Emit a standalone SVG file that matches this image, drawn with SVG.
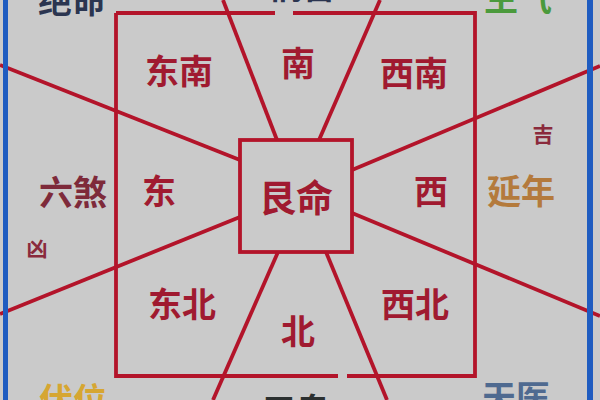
<svg xmlns="http://www.w3.org/2000/svg" width="600" height="400" viewBox="0 0 600 400">
<style>
.ln{stroke:#b3142a;stroke-width:3.8;fill:none;stroke-linecap:butt}
.bl{fill:#1f5cc0}
text{font-family:"Noto Sans CJK SC","Noto Sans",sans-serif;text-anchor:middle;font-weight:bold}
.dir{fill:#a01a30;font-size:34px}
.lab{font-size:34px}
.sm{font-size:21px;fill:#8a2a3c}
</style>
<rect width="600" height="400" fill="#cacaca"/>
<g id="connectors">
<path class="ln" d="M116,13H275M293,13H475V376H347M338,376H116V13"/>
<rect class="ln" x="240" y="140" width="112" height="112"/>
<line class="ln" x1="223" y1="0" x2="277" y2="140"/>
<line class="ln" x1="380" y1="0" x2="319" y2="140"/>
<line class="ln" x1="0" y1="65" x2="240" y2="160"/>
<line class="ln" x1="0" y1="314" x2="240" y2="217"/>
<line class="ln" x1="600" y1="66" x2="352" y2="170"/>
<line class="ln" x1="600" y1="316" x2="352" y2="213"/>
<line class="ln" x1="278" y1="252" x2="213" y2="400"/>
<line class="ln" x1="326" y1="252" x2="387" y2="400"/>
</g>
<rect class="bl" x="3" y="0" width="5" height="400"/>
<rect class="bl" x="587" y="0" width="6" height="400"/>
<g id="n-se"><text class="dir" x="179" y="84">东南</text></g>
<g id="n-s"><text class="dir" x="298" y="76">南</text></g>
<g id="n-sw"><text class="dir" x="414" y="86">西南</text></g>
<g id="n-e"><text class="dir" x="159" y="204">东</text></g>
<g id="n-center"><text class="dir" x="296" y="212" style="font-size:37px">艮命</text></g>
<g id="n-w"><text class="dir" x="431" y="204">西</text></g>
<g id="n-ne"><text class="dir" x="182" y="317">东北</text></g>
<g id="n-n"><text class="dir" x="298" y="344">北</text></g>
<g id="n-nw"><text class="dir" x="415" y="317">西北</text></g>
<g id="n-liusha"><text class="lab" x="73" y="205" fill="#7e2a3a">六煞</text></g>
<g id="n-yannian"><text class="lab" x="521" y="204" fill="#b47a3c">延年</text></g>
<g id="n-ji"><text class="sm" x="543" y="142">吉</text></g>
<g id="n-xiong"><text class="sm" x="37" y="256">凶</text></g>
<g id="n-jueming"><text class="lab" x="72" y="13" fill="#2b3550">绝命</text></g>
<g id="n-shengqi"><text class="lab" x="518" y="11" fill="#4b9a3c">生气</text></g>
<g id="n-huohai"><text class="lab" x="302" y="-1" fill="#2b3550">祸害</text></g>
<g id="n-fuwei"><text class="lab" x="73" y="413" fill="#d6a632">伏位</text></g>
<g id="n-wugui"><text class="lab" x="296" y="423" fill="#2b3030">五鬼</text></g>
<g id="n-tianyi"><text class="lab" x="516" y="410" fill="#4f6a90">天医</text></g>
</svg>
